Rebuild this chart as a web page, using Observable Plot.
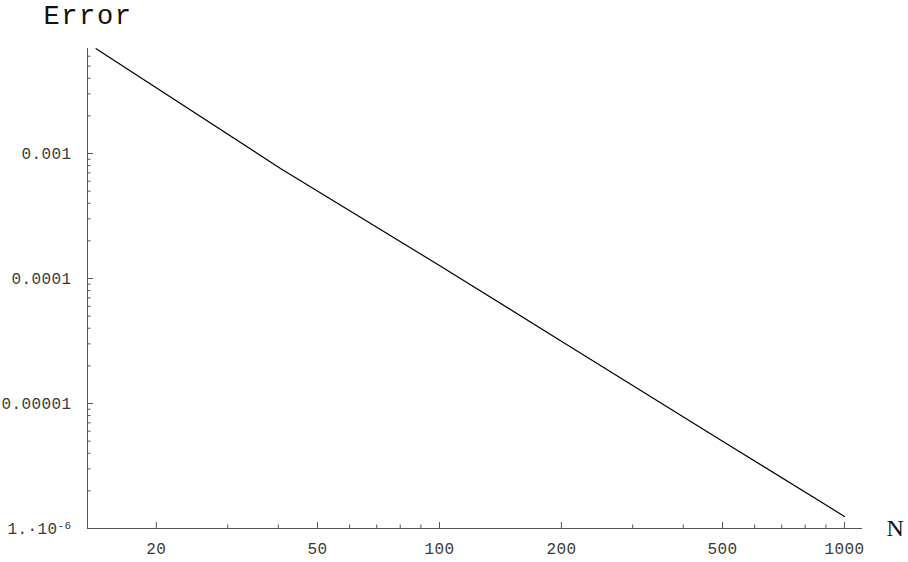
<!DOCTYPE html>
<html>
<head>
<meta charset="utf-8">
<script src="https://cdn.jsdelivr.net/npm/d3@7"></script>
<script src="https://cdn.jsdelivr.net/npm/@observablehq/plot@0.6"></script>
<style>
  html, body { margin: 0; padding: 0; background: #fff; }
  svg { display: block; }
</style>
</head>
<body>
<div id="chart"></div>
<script>
// Data (log-log plot of Error vs N)
const nValues = [14.2, 40.5, 100, 200, 500, 1000];
const errorValues = [0.0069, 0.00076, 0.000127, 0.0000315, 0.00000499, 0.00000125];

// Axis ticks
const xMajor = [20, 50, 100, 200, 500, 1000];
const xMajorLabels = ["20", "50", "100", "200", "500", "1000"];
const xMinor = [30, 40, 60, 70, 80, 90, 300, 400, 600, 700, 800, 900];
const yMajor = [1e-6, 1e-5, 1e-4, 1e-3];
const yMajorLabels = ["1.·10^-6", "0.00001", "0.0001", "0.001"];
const yMinor = [
  2e-6, 3e-6, 4e-6, 5e-6, 6e-6, 7e-6, 8e-6, 9e-6,
  2e-5, 3e-5, 4e-5, 5e-5, 6e-5, 7e-5, 8e-5, 9e-5,
  2e-4, 3e-4, 4e-4, 5e-4, 6e-4, 7e-4, 8e-4, 9e-4,
  2e-3, 3e-3, 4e-3, 5e-3, 6e-3
];
const xDomain = [13.52, 1108];
const yDomain = [1e-6, 0.006918];

const W = 908, H = 562;
const mL = 87, mR = 46, mT = 48, mB = 34;
const innerW = W - mL - mR, innerH = H - mT - mB;
const axisColor = "#555";
const labelColor = "#3a3a3a";
const mono = "Liberation Mono, Courier New, monospace";

const points = nValues.map((n, i) => ({n, e: errorValues[i]}));

const chart = Plot.plot({
  width: W,
  height: H,
  marginLeft: mL,
  marginRight: mR,
  marginTop: mT,
  marginBottom: mB,
  x: {type: "log", domain: xDomain, axis: null},
  y: {type: "log", domain: yDomain, axis: null},
  marks: [
    // axis lines
    Plot.ruleY([yDomain[0]], {stroke: axisColor, strokeWidth: 1}),
    Plot.ruleX([xDomain[0]], {stroke: axisColor, strokeWidth: 1}),
    // x ticks (inward)
    Plot.tickX(xMajor, {x: d => d, insetTop: innerH - 6, stroke: axisColor}),
    Plot.tickX(xMinor, {x: d => d, insetTop: innerH - 3.5, stroke: axisColor}),
    // y ticks (inward)
    Plot.tickY(yMajor, {y: d => d, insetRight: innerW - 6, stroke: axisColor}),
    Plot.tickY(yMinor, {y: d => d, insetRight: innerW - 3.5, stroke: axisColor}),
    // tick labels
    Plot.text(xMajor, {
      x: d => d, y: yDomain[0], text: (d, i) => xMajorLabels[i],
      lineAnchor: "top", dy: 14, fontFamily: mono, fontSize: 16, fill: labelColor,
      className: "ticklabel"
    }),
    Plot.text(yMajor, {
      x: xDomain[0], y: d => d, text: (d, i) => yMajorLabels[i],
      textAnchor: "end", lineAnchor: "middle", dx: -16, fontFamily: mono, fontSize: 16, fill: labelColor,
      className: "ticklabel"
    }),
    // data line
    Plot.line(points, {x: "n", y: "e", stroke: "#000", strokeWidth: 1.2}),
    // axis titles
    Plot.text(["Error"], {
      frameAnchor: "top-left", text: d => d, textAnchor: "start", lineAnchor: "bottom",
      dx: -44, dy: -25, fontFamily: mono, fontSize: 27, fill: "#111", className: "ytitle"
    }),
    Plot.text(["N"], {
      frameAnchor: "bottom-right", text: d => d, textAnchor: "start", lineAnchor: "bottom",
      dx: 24, dy: 7, fontFamily: "Liberation Serif, Times New Roman, serif", fontSize: 24, fill: "#111"
    })
  ]
});

// wider letter spacing like the reference's Courier rendering
chart.querySelectorAll(".ytitle text").forEach(t => t.setAttribute("letter-spacing", "1.6"));
chart.querySelectorAll(".ticklabel text").forEach(t => t.setAttribute("letter-spacing", "0.4"));

// render the superscript exponent of the 1e-6 label
chart.querySelectorAll("text").forEach(t => {
  if (t.textContent === "1.·10^-6") {
    t.textContent = "1.·10";
    const sup = document.createElementNS("http://www.w3.org/2000/svg", "tspan");
    sup.setAttribute("dy", "-5");
    sup.setAttribute("font-size", "11");
    sup.textContent = "-6";
    t.appendChild(sup);
  }
});

document.getElementById("chart").appendChild(chart);
</script>
</body>
</html>
